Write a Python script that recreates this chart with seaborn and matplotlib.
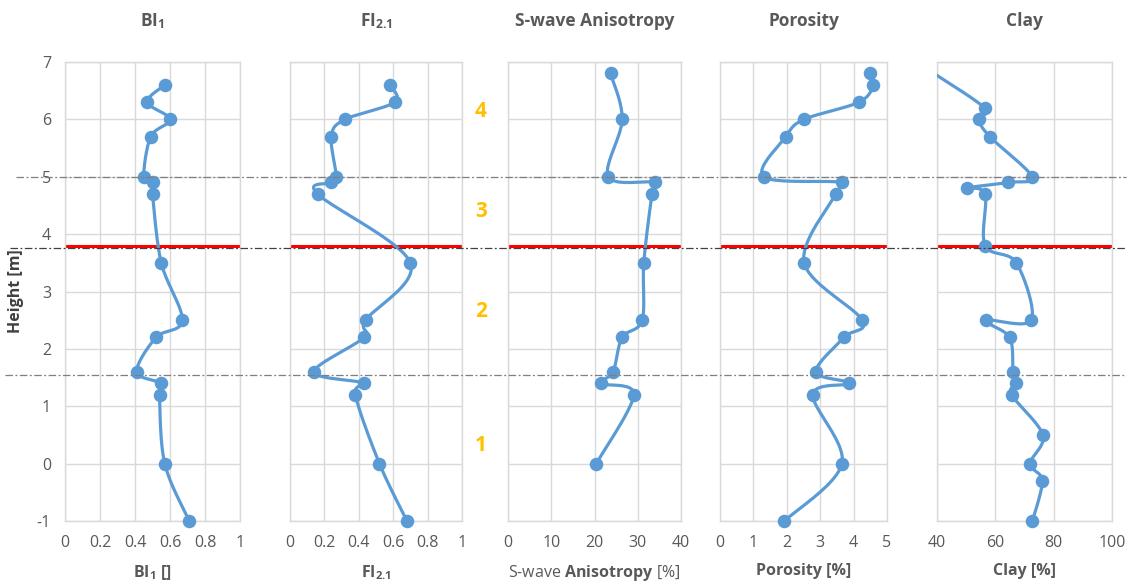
import numpy as np
import pandas as pd
import seaborn as sns
import matplotlib
matplotlib.use("Agg")
import matplotlib.pyplot as plt
from matplotlib import transforms
from matplotlib.lines import Line2D

# ---- data -------------------------------------------------------------
depth_main = [6.6, 6.3, 6.0, 5.7, 5.0, 4.9, 4.7, 3.5, 2.5, 2.2, 1.6, 1.4, 1.2, 0.0, -1.0]
bi1 = [0.57, 0.47, 0.60, 0.49, 0.45, 0.50, 0.50, 0.55, 0.67, 0.52, 0.41, 0.55, 0.54, 0.57, 0.71]
fi21 = [0.58, 0.61, 0.32, 0.24, 0.27, 0.24, 0.16, 0.70, 0.44, 0.43, 0.14, 0.43, 0.38, 0.52, 0.68]

depth_swave = [6.8, 6.0, 5.0, 4.9, 4.7, 3.5, 2.5, 2.2, 1.6, 1.4, 1.2, 0.0]
swave_aniso = [23.7, 26.4, 23.2, 34.1, 33.3, 31.4, 31.0, 26.4, 24.3, 21.6, 29.1, 20.4]

depth_poro = [6.8, 6.6, 6.3, 6.0, 5.7, 5.0, 4.9, 4.7, 3.5, 2.5, 2.2, 1.6, 1.4, 1.2, 0.0, -1.0]
porosity = [4.49, 4.59, 4.16, 2.52, 1.97, 1.31, 3.65, 3.46, 2.52, 4.26, 3.71, 2.87, 3.85, 2.78, 3.65, 1.92]

depth_clay = [6.8, 6.2, 6.0, 5.7, 5.0, 4.9, 4.8, 4.7, 3.8, 3.5, 2.5, 2.5, 2.2, 1.6, 1.4, 1.2,
              0.5, 0.0, -0.3, -1.0]
clay = [39.0, 56.3, 54.4, 58.1, 72.6, 64.3, 50.4, 56.5, 56.5, 67.2, 72.3, 56.7, 64.9, 66.1,
        67.2, 65.6, 76.3, 72.0, 76.1, 72.7]

unit_boundaries = [5.0, 3.75, 1.55]
red_marker_depth = 3.8
unit_labels = ["4", "3", "2", "1"]
unit_label_depths = [6.13, 4.39, 2.66, 0.31]

panel_titles = ["BI$_\\mathbf{1}$", "FI$_\\mathbf{2.1}$", "S-wave Anisotropy", "Porosity", "Clay"]
panel_xlabels = ["BI$_\\mathbf{1}$ []", "FI$_\\mathbf{2.1}$", "S-wave $\\mathbf{Anisotropy}$ [%]",
                 "Porosity [%]", "Clay [%]"]
xlabel_bold = [True, True, False, True, True]
panel_xticks = [[0, 0.2, 0.4, 0.6, 0.8, 1], [0, 0.2, 0.4, 0.6, 0.8, 1],
                [0, 10, 20, 30, 40], [0, 1, 2, 3, 4, 5], [40, 60, 80, 100]]
panel_xticklabels = [["0", "0.2", "0.4", "0.6", "0.8", "1"], ["0", "0.2", "0.4", "0.6", "0.8", "1"],
                     ["0", "10", "20", "30", "40"], ["0", "1", "2", "3", "4", "5"],
                     ["40", "60", "80", "100"]]
y_ticks = [-1, 0, 1, 2, 3, 4, 5, 6, 7]

# ---- style ------------------------------------------------------------
sns.set_theme(style="white")
plt.rcParams["font.family"] = ["Open Sans", "DejaVu Sans"]
plt.rcParams["mathtext.fontset"] = "custom"
plt.rcParams["mathtext.rm"] = "Open Sans"
plt.rcParams["mathtext.bf"] = "Open Sans:bold"
plt.rcParams["mathtext.it"] = "Open Sans:italic"
plt.rcParams["axes.unicode_minus"] = False

LINE_BLUE = "#5B9BD5"
GRID = "#D9D9D9"
TXT = "#595959"
ORANGE = "#FFC000"

W, H = 1128, 586
fig = plt.figure(figsize=(W / 100, H / 100), dpi=100)

# plot-area rectangles in pixels: (left, right)
panel_px = [(65, 240), (290, 462), (508, 681), (720, 887), (937, 1112)]
top_px, bot_px = 62, 521
ylim = (-1, 7)


def smooth_path(xv, yv, xlim, w_px, h_px, steps=24):
    """Bezier smoothing of a polyline, computed in pixel space of the axes."""
    px = (np.asarray(xv, float) - xlim[0]) / (xlim[1] - xlim[0]) * w_px
    py = (np.asarray(yv, float) - ylim[0]) / (ylim[1] - ylim[0]) * h_px
    P = np.column_stack([px, py])
    n = len(P)
    ext = np.vstack([P[0], P, P[-1]])
    t = np.linspace(0, 1, steps)[:, None]
    segs = []
    for i in range(n - 1):
        p0, p1 = ext[i + 1], ext[i + 2]
        c1 = p0 + (ext[i + 2] - ext[i]) / 6.0
        c2 = p1 - (ext[i + 3] - ext[i + 1]) / 6.0
        b = ((1 - t) ** 3) * p0 + 3 * ((1 - t) ** 2) * t * c1 + 3 * (1 - t) * t ** 2 * c2 + t ** 3 * p1
        segs.append(b if i == 0 else b[1:])
    B = np.vstack(segs)
    bx = B[:, 0] / w_px * (xlim[1] - xlim[0]) + xlim[0]
    by = B[:, 1] / h_px * (ylim[1] - ylim[0]) + ylim[0]
    return bx, by


series = [(bi1, depth_main), (fi21, depth_main), (swave_aniso, depth_swave),
          (porosity, depth_poro), (clay, depth_clay)]

axes = []
for k, ((l, r), (vals, dep)) in enumerate(zip(panel_px, series)):
    ax = fig.add_axes([l / W, 1 - bot_px / H, (r - l) / W, (bot_px - top_px) / H])
    axes.append(ax)
    xt = panel_xticks[k]
    xlim = (xt[0], xt[-1])
    ax.set_xlim(*xlim)
    ax.set_ylim(*ylim)
    ax.set_xticks(xt)
    ax.set_xticklabels(panel_xticklabels[k])
    ax.set_yticks(y_ticks)
    if k == 0:
        ax.set_yticklabels([str(v) for v in y_ticks])
        ax.set_ylabel("Height [m]", fontsize=11.5, fontweight="bold", color="#404040", labelpad=9)
    else:
        ax.set_yticklabels([])
    ax.grid(True, color=GRID, linewidth=1)
    ax.set_axisbelow(True)
    for s in ax.spines.values():
        s.set_color(GRID)
        s.set_linewidth(1)
    ax.tick_params(length=0, labelsize=11.5, colors=TXT, pad=10)

    ax.axhline(red_marker_depth, color="#FF0000", linewidth=2.2, zorder=2)

    bx, by = smooth_path(vals, dep, xlim, r - l, bot_px - top_px)
    sns.lineplot(x=bx, y=by, sort=False, estimator=None, ax=ax, color=LINE_BLUE,
                 linewidth=2.3, zorder=3)
    # markers outside the x-range are not displayed
    v = np.asarray(vals, float)
    d = np.asarray(dep, float)
    inside = (v >= xlim[0]) & (v <= xlim[1])
    sns.scatterplot(x=v[inside], y=d[inside], ax=ax, color=LINE_BLUE, s=95,
                    edgecolor=LINE_BLUE, linewidth=0, zorder=4, clip_on=False)

    ax.set_title(panel_titles[k], fontsize=12.5, fontweight="bold", color=TXT, pad=26)
    ax.set_xlabel(panel_xlabels[k], fontsize=11.5, color=TXT,
                  fontweight="bold" if xlabel_bold[k] else "normal", labelpad=9)

# dash-dot unit boundaries running across the whole figure
band = transforms.blended_transform_factory(fig.transFigure, axes[0].transData)
starts = [0.014, 0.009, 0.004]
colors = ["#7F7F7F", "#404040", "#7F7F7F"]
for yb, x0, c in zip(unit_boundaries, starts, colors):
    fig.add_artist(Line2D([x0, 0.998], [yb, yb], transform=band, color=c,
                          linewidth=0.9, linestyle=(0, (6, 2, 1.5, 2)), zorder=10))

# unit numbers between the second and third panel
lab_tr = transforms.blended_transform_factory(axes[2].transAxes, axes[2].transData)
for txt, yv in zip(unit_labels, unit_label_depths):
    axes[2].text(-0.156, yv, txt, transform=lab_tr, ha="center", va="center",
                 fontsize=15, fontweight="bold", color=ORANGE, clip_on=False)

fig.savefig("out.png", dpi=100)
